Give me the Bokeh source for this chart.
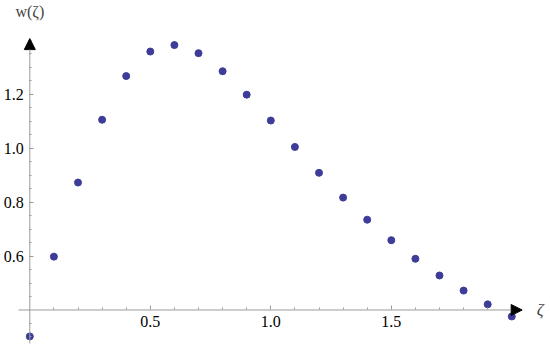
from bokeh.plotting import figure
from bokeh.models import LinearAxis, FixedTicker, Range1d, Arrow, NormalHead, Label, PrintfTickFormatter
from bokeh.embed import file_html
from bokeh.resources import INLINE

# data
zeta = [0.0, 0.1, 0.2, 0.3, 0.4, 0.5, 0.6, 0.7, 0.8, 0.9, 1.0,
        1.1, 1.2, 1.3, 1.4, 1.5, 1.6, 1.7, 1.8, 1.9, 2.0]
w = [0.302, 0.598, 0.873, 1.106, 1.268, 1.359, 1.383, 1.353, 1.286, 1.199, 1.103,
     1.005, 0.909, 0.817, 0.735, 0.659, 0.590, 0.528, 0.472, 0.421, 0.376]

x_major = [0.5, 1.0, 1.5]
x_minor = [0.1, 0.2, 0.3, 0.4, 0.6, 0.7, 0.8, 0.9, 1.1, 1.2, 1.3, 1.4, 1.6, 1.7, 1.8, 1.9]
y_major = [0.6, 0.8, 1.0, 1.2]
y_minor = [0.3, 0.35, 0.45, 0.5, 0.55, 0.65, 0.7, 0.75, 0.85, 0.9, 0.95,
           1.05, 1.1, 1.15, 1.25, 1.3, 1.35, 1.4]

x_origin = 0.0
y_origin = 0.4
# plot range (where the axis lines run)
x_lo, x_hi = -0.047, 2.043
y_lo, y_hi = 0.276, 1.407
# view range including the padding around the plot
view_x = (-0.1216, 2.1440)
view_y = (0.2571, 1.5484)

AXIS_COLOR = "#9a9a9a"
FONT = "Liberation Serif"

p = figure(width=546, height=348,
           x_range=Range1d(*view_x), y_range=Range1d(*view_y),
           x_axis_location=None, y_axis_location=None,
           toolbar_location=None, output_backend="svg", min_border=0)
p.grid.visible = False
p.outline_line_color = None
p.background_fill_color = "white"
p.border_fill_color = "white"

xaxis = LinearAxis(fixed_location=y_origin,
                   ticker=FixedTicker(ticks=x_major, minor_ticks=x_minor))
yaxis = LinearAxis(fixed_location=x_origin,
                   ticker=FixedTicker(ticks=y_major, minor_ticks=y_minor))
for ax in (xaxis, yaxis):
    ax.axis_line_color = None
    ax.formatter = PrintfTickFormatter(format="%.1f")
    ax.major_tick_line_color = AXIS_COLOR
    ax.minor_tick_line_color = AXIS_COLOR
    ax.major_tick_in = 4
    ax.major_tick_out = 0
    ax.minor_tick_in = 2
    ax.minor_tick_out = 0
    ax.major_label_text_font = FONT
    ax.major_label_text_font_size = "16px"
    ax.major_label_text_color = "black"
xaxis.major_label_standoff = 6
yaxis.major_label_standoff = 6
p.add_layout(xaxis, "below")
p.add_layout(yaxis, "left")

# axis lines with arrowheads
p.add_layout(Arrow(end=NormalHead(size=11, fill_color="black", line_color="black", line_width=1),
                   x_start=x_lo, y_start=y_origin, x_end=x_hi, y_end=y_origin,
                   line_color=AXIS_COLOR, line_width=1))
p.add_layout(Arrow(end=NormalHead(size=11, fill_color="black", line_color="black", line_width=1),
                   x_start=x_origin, y_start=y_lo, x_end=x_origin, y_end=y_hi,
                   line_color=AXIS_COLOR, line_width=1))

p.scatter(zeta, w, size=7, color="#3d3d99")

p.add_layout(Label(x=x_origin, y=1.506, text="w(ζ)", text_font=FONT,
                   text_font_size="16px", text_align="center", text_baseline="middle"))
p.add_layout(Label(x=2.118, y=y_origin, text="ζ", text_font=FONT, text_font_style="italic",
                   text_font_size="17px", text_align="center", text_baseline="middle"))

open("out.html", "w").write(file_html(p, INLINE))
